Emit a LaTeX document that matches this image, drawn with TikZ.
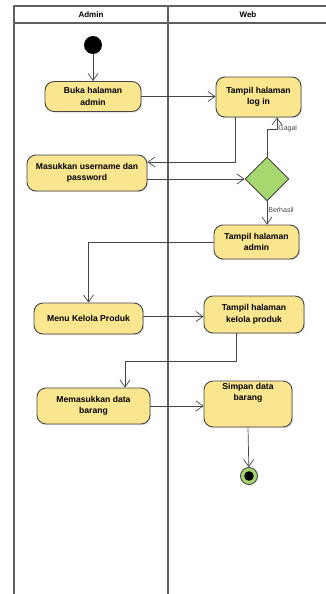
\documentclass[tikz,border=0pt]{standalone}
\usepackage{fontspec}
\setmainfont{Liberation Sans}
\usetikzlibrary{arrows.meta,calc,positioning,shapes.geometric,shadows}

\definecolor{actfill}{RGB}{249,230,143}
\definecolor{decfill}{RGB}{167,216,112}
\definecolor{lanegray}{RGB}{95,95,95}
\definecolor{linegray}{RGB}{70,70,70}

\tikzset{
    act/.style={rectangle, rounded corners=9pt, draw=linegray, line width=0.9pt,
        fill=actfill, align=center, inner sep=0pt,
        font=\fontsize{8.6}{11.5}\selectfont\bfseries,
        drop shadow={shadow xshift=1.2pt, shadow yshift=-1.2pt, opacity=0.25}},
    flow/.style={draw=linegray, line width=0.7pt, -{Straight Barb[length=7pt,width=10pt]}},
    lbl/.style={font=\fontsize{7}{8}\selectfont, text=linegray, inner sep=1pt},
    lane/.style={draw=lanegray, line width=1.1pt},
}

\begin{document}
\begin{tikzpicture}[x=1pt, y=-1pt, line join=round]
    \useasboundingbox (0,0) rectangle (326,594);

    % swimlanes
    \draw[lane] (14,594) -- (14,6) -- (326,6);
    \draw[lane] (14,23) -- (326,23);
    \draw[lane] (168,6) -- (168,594);
    \node[font=\fontsize{8}{9}\selectfont\bfseries] (hadmin) at (91,14.5) {Admin};
    \node[font=\fontsize{8}{9}\selectfont\bfseries] (hweb) at (248,14.5) {Web};

    % nodes
    \node[circle, fill=black, minimum size=18pt, inner sep=0pt] (start) at (93,45) {};
    \node[act, minimum width=96pt, minimum height=30pt] (buka) at (93,96.5) {Buka halaman\\admin};
    \node[act, minimum width=85pt, minimum height=40pt] (login) at (258.5,97) {Tampil halaman\\log in};
    \node[act, minimum width=120pt, minimum height=36pt] (masuk) at (87,173) {Masukkan username dan\\password};
    \node[diamond, draw=linegray, line width=0.9pt, fill=decfill, minimum width=44pt,
        minimum height=44pt, inner sep=0pt] (cek) at (267,179) {};
    \node[act, minimum width=85pt, minimum height=34pt] (admin) at (256.5,242) {Tampil halaman\\admin};
    \node[act, minimum width=109pt, minimum height=31pt] (menu) at (88.5,318.5) {Menu Kelola Produk};
    \node[act, minimum width=100pt, minimum height=37pt] (kelola) at (254,314.5) {Tampil halaman\\kelola produk};
    \node[act, minimum width=113pt, minimum height=36pt] (memasuk) at (93.5,406) {Memasukkan data\\barang};
    \node[act, minimum width=88pt, minimum height=46pt, text depth=24pt] (simpan) at (248,404) {Simpan data\\barang};
    \node[circle, draw=linegray, line width=0.9pt, fill=decfill, minimum size=17pt, inner sep=0pt] (final) at (249,476) {};
    \fill (final) circle (4.8pt);

    % connectors
    \draw[flow] (start) -- (buka);
    \draw[flow] (buka.east) -- (login.west |- buka.east);
    \draw[flow] ([xshift=-23pt]login.south) |- ([yshift=11pt]masuk.east);
    \draw[flow] (cek.west -| masuk.east) -- (cek.west);
    \draw[flow] (cek.north) -- ++(0,-27) -- ++(10,0) node[lbl, right, yshift=0.5pt] (gagal) {Gagal}
        -- ([xshift=18.5pt]login.south);
    \draw[flow] (cek.south) -- node[lbl, right, pos=0.35] (berhasil) {Berhasil} (cek.south |- admin.north);
    \draw[flow] (admin.west) -| (menu.north);
    \draw[flow] (menu.east |- kelola.west) ++(0,2) -- ([yshift=-2pt]kelola.west);
    \draw[flow] ([xshift=-18pt]kelola.south) -- ++(0,28) -| ([xshift=31.5pt]memasuk.north);
    \draw[flow] (memasuk.east) -- (simpan.west |- memasuk.east);
    \draw[flow] (simpan.south) -- (final);
\end{tikzpicture}
\end{document}
